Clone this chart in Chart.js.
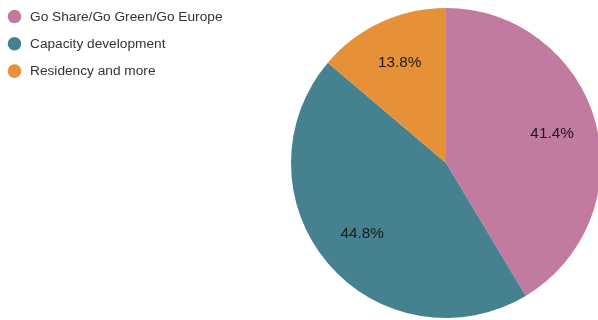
<!DOCTYPE html>
<html>
<head>
<meta charset="utf-8">
<script src="https://cdn.jsdelivr.net/npm/chart.js@4.4.1/dist/chart.umd.min.js"></script>
<style>
  html, body { margin: 0; padding: 0; background: #ffffff; overflow: hidden; }
  #wrap { position: relative; width: 602px; height: 320px; }
</style>
</head>
<body>
<div id="wrap"><canvas id="chart" width="602" height="320"></canvas></div>
<script>
// Share of the programme budget by strand (percent)
const categories = ['Go Share/Go Green/Go Europe', 'Capacity development', 'Residency and more'];
const shares = [41.4, 44.8, 13.8];
const sliceColors = ['#c27ba0', '#45818e', '#e69138'];

const FONT = '"Liberation Sans", Arial, sans-serif';

// Percent labels placed inside each slice
const sliceLabels = {
  id: 'sliceLabels',
  afterDatasetsDraw(chart) {
    const ctx = chart.ctx;
    const meta = chart.getDatasetMeta(0);
    const total = shares.reduce((a, b) => a + b, 0);
    ctx.save();
    ctx.font = '15.3px ' + FONT;
    ctx.fillStyle = '#1a1a1a';
    ctx.textAlign = 'center';
    ctx.textBaseline = 'middle';
    meta.data.forEach((arc, i) => {
      const p = arc.getProps(['x', 'y', 'startAngle', 'endAngle', 'outerRadius'], true);
      const mid = (p.startAngle + p.endAngle) / 2;
      const r = p.outerRadius * 0.71;
      const pct = (shares[i] / total * 100).toFixed(1) + '%';
      ctx.fillText(pct, p.x + Math.cos(mid) * r, p.y + Math.sin(mid) * r);
    });
    ctx.restore();
  }
};

// Legend in the top-left corner with round markers
const cornerLegend = {
  id: 'cornerLegend',
  afterDraw(chart) {
    const ctx = chart.ctx;
    const colors = chart.data.datasets[0].backgroundColor;
    ctx.save();
    ctx.font = '13.7px ' + FONT;
    ctx.textAlign = 'left';
    ctx.textBaseline = 'middle';
    chart.data.labels.forEach((label, i) => {
      const y = 16.5 + i * 27.3;
      ctx.beginPath();
      ctx.arc(14.5, y, 6.8, 0, Math.PI * 2);
      ctx.fillStyle = colors[i];
      ctx.fill();
      ctx.fillStyle = '#333333';
      ctx.fillText(label, 30, y + 0.5);
    });
    ctx.restore();
  }
};

new Chart(document.getElementById('chart'), {
  type: 'pie',
  data: {
    labels: categories,
    datasets: [{
      data: shares,
      backgroundColor: sliceColors,
      borderWidth: 0
    }]
  },
  options: {
    responsive: false,
    animation: false,
    layout: { padding: { left: 290, top: 8, bottom: 2, right: 0 } },
    plugins: {
      legend: { display: false },
      tooltip: { enabled: false }
    }
  },
  plugins: [sliceLabels, cornerLegend]
});
</script>
</body>
</html>
